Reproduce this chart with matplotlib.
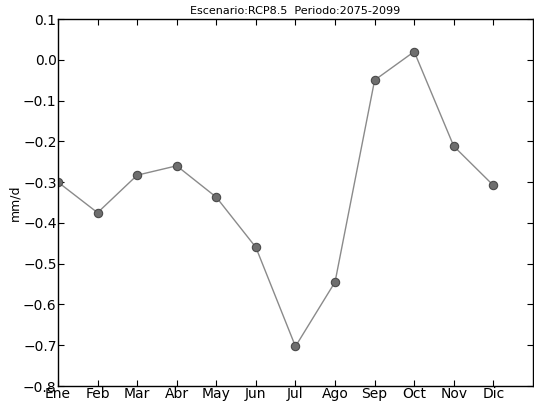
import matplotlib
matplotlib.use('Agg')
import matplotlib.pyplot as plt

# datos mensuales
meses = ['Ene', 'Feb', 'Mar', 'Abr', 'May', 'Jun', 'Jul', 'Ago', 'Sep', 'Oct', 'Nov', 'Dic']
valores = [-0.300, -0.375, -0.283, -0.260, -0.337, -0.460, -0.703, -0.545, -0.050, 0.020, -0.212, -0.308]
yticks = [0.1, 0.0, -0.1, -0.2, -0.3, -0.4, -0.5, -0.6, -0.7, -0.8]

fig = plt.figure(figsize=(5.34, 4.01), dpi=100)
ax = fig.add_axes([0.1086, 0.0374, 0.8894, 0.9152])

x = list(range(len(meses)))
ax.plot(x, valores, '-', color='#8a8a8a', lw=1.0)
ax.plot(x, valores, 'o', color='#6e6e6e', mec='#4a4a4a', ms=6, mew=0.8)

ax.set_xlim(0, 12)
ax.set_ylim(-0.8, 0.1)
ax.set_xticks(x)
ax.set_xticklabels(meses, fontsize=10)
ax.set_yticks(yticks)
ax.tick_params(direction='in', top=True, right=True, length=4, pad=1, labelsize=10)
ax.set_ylabel('mm/d', fontsize=9)
ax.yaxis.set_label_coords(-0.078, 0.5)
for s in ax.spines.values():
    s.set_linewidth(1.0)

fig.text(0.553, 0.972, 'Escenario:RCP8.5  Periodo:2075-2099', ha='center', va='center', fontsize=8)

fig.savefig('out.png', dpi=100)
